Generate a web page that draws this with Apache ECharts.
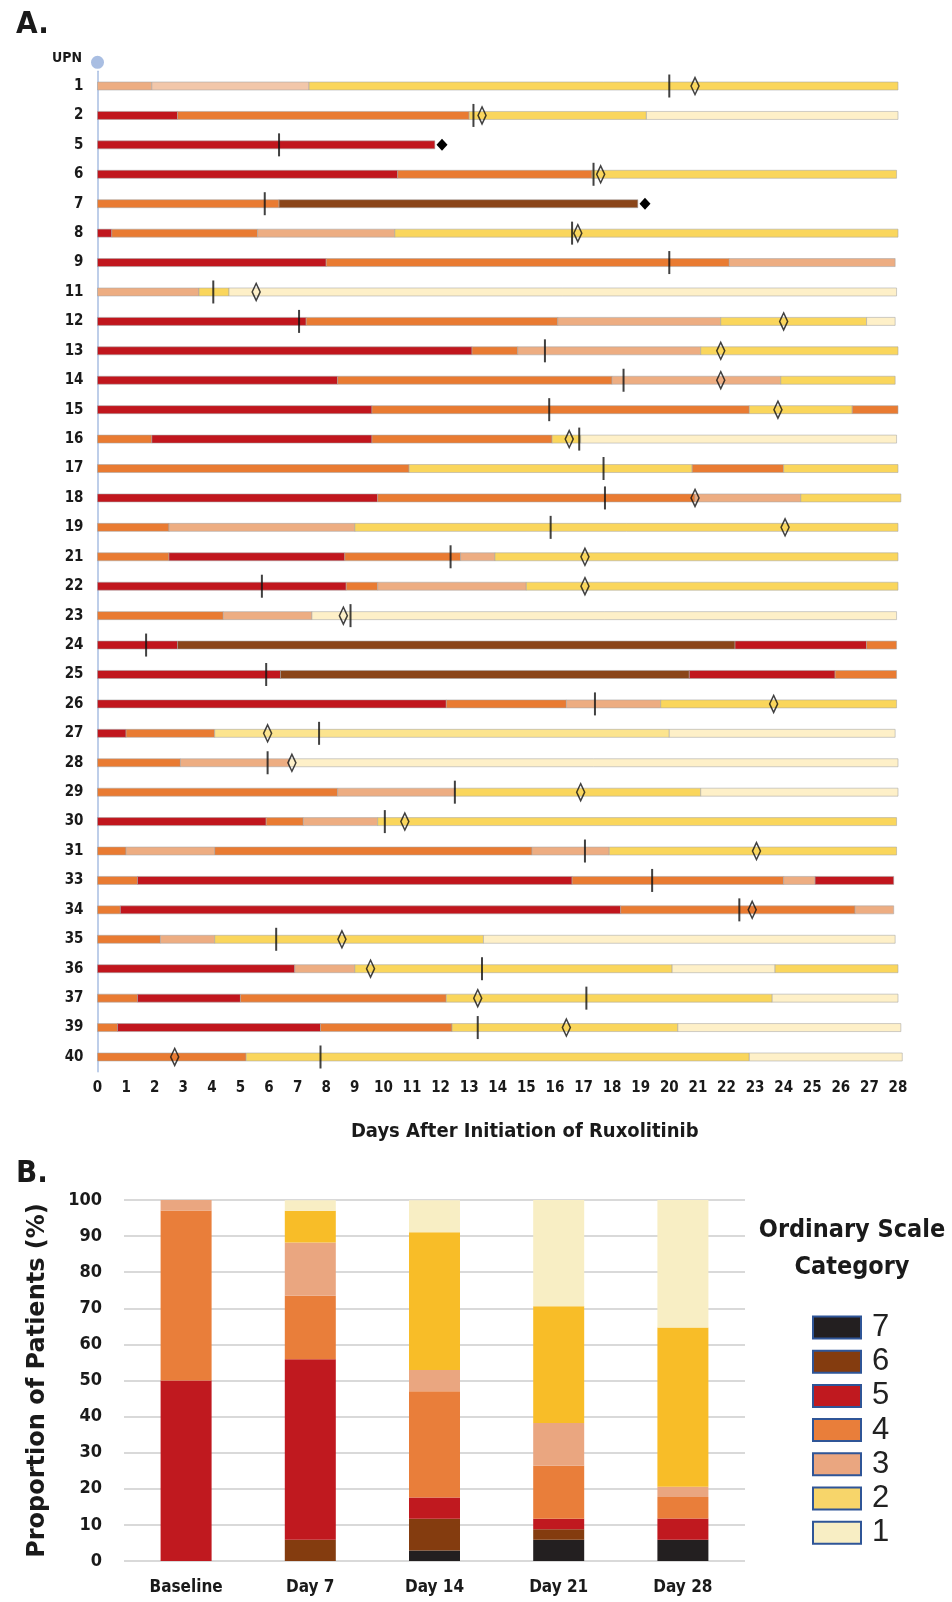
<!DOCTYPE html>
<html>
<head>
<meta charset="utf-8">
<script src="https://cdn.jsdelivr.net/npm/echarts@6.0.0/dist/echarts.min.js"></script>
<style>
  html, body { margin: 0; padding: 0; background: #ffffff; }
  #chart { width: 952px; height: 1602px; }
</style>
</head>
<body>
<div id="chart"></div>
<script>
// ---------- Panel A: daily ordinal-scale course for each patient ----------
const upn = ['1','2','5','6','7','8','9','11','12','13','14','15','16','17','18','19','21','22',
             '23','24','25','26','27','28','29','30','31','33','34','35','36','37','39','40'];

// Day on which each successive stage ends (stages start at day 0)
const stageEnd = [
  [1.9, 7.4, 28],
  [2.8, 13.0, 19.2, 28],
  [11.8],
  [10.5, 17.3, 27.95],
  [6.35, 18.9],
  [0.5, 5.6, 10.4, 28],
  [8.0, 22.1, 27.9],
  [3.55, 4.6, 27.95],
  [7.3, 16.1, 21.8, 26.9, 27.9],
  [13.1, 14.7, 21.1, 28],
  [8.4, 18.0, 23.9, 27.9],
  [9.6, 22.8, 26.4, 28],
  [1.9, 9.6, 15.9, 16.9, 27.95],
  [10.9, 20.8, 24.0, 28],
  [9.8, 20.9, 24.6, 28.1],
  [2.5, 9.0, 28],
  [2.5, 8.65, 12.7, 13.9, 28],
  [8.7, 9.8, 15.0, 28],
  [4.4, 7.5, 27.95],
  [2.8, 22.3, 26.9, 27.95],
  [6.4, 20.7, 25.8, 27.95],
  [12.2, 16.4, 19.7, 27.95],
  [1.0, 4.1, 20.0, 27.9],
  [2.9, 6.7, 28],
  [8.4, 12.5, 21.1, 28],
  [5.9, 7.2, 9.8, 27.95],
  [1.0, 4.1, 15.2, 17.9, 27.95],
  [1.4, 16.6, 24.0, 25.1, 27.85],
  [0.8, 18.3, 26.5, 27.85],
  [2.2, 4.1, 13.5, 27.9],
  [6.9, 9.0, 20.1, 23.7, 28],
  [1.4, 5.0, 12.2, 23.6, 28],
  [0.7, 7.8, 12.4, 20.3, 28.1],
  [5.2, 22.8, 28.15]
];

// Ordinal-scale category of each stage ('3L' / '2L' = lighter shades)
const stageCat = [
  [3,'3L',2], [5,4,2,1], [5], [5,4,2], [4,6], [5,4,3,2], [5,4,3], [3,2,1],
  [5,4,3,2,1], [5,4,3,2], [5,4,3,2], [5,4,2,4], [4,5,4,2,1], [4,2,4,2],
  [5,4,3,2], [4,3,2], [4,5,4,3,2], [5,4,3,2], [4,3,1], [5,6,5,4], [5,6,5,4],
  [5,4,3,2], [5,4,'2L',1], [4,3,1], [4,3,2,1], [5,4,3,2], [4,3,4,3,2],
  [4,5,4,3,5], [4,5,4,3], [4,3,2,1], [5,3,2,1,2], [4,5,4,2,1], [4,5,4,2,1], [4,2,1]
];

// Event days per patient (null = none)
const tickDay = [20.0, 13.15, 6.35, 17.35, 5.85, 16.6, 20.0, 4.05, 7.05, 15.65, 18.4, 15.8,
                 16.85, 17.7, 17.75, 15.85, 12.35, 5.75, 8.85, 1.7, 5.9, 17.4, 7.75, 5.95,
                 12.5, 10.05, 17.05, 19.4, 22.45, 6.25, 13.45, 17.1, 13.3, 7.8];
const diamondDay = [20.9, 13.45, null, 17.6, null, 16.8, null, 5.55, 24.0, 21.8, 21.8, 23.8,
                    16.5, null, 20.9, 24.05, 17.05, 17.05, 8.6, null, null, 23.65, 5.95, 6.8,
                    16.9, 10.75, 23.05, null, 22.9, 8.55, 9.55, 13.3, 16.4, 2.7];
const deathDay = [null, null, 12.05, null, 19.15, null, null, null, null, null, null, null,
                  null, null, null, null, null, null, null, null, null, null, null, null,
                  null, null, null, null, null, null, null, null, null, null];

const dayTicks = [0, 28];

// ---------- Panel B: proportion of patients per category ----------
const timepoints = ['Baseline', 'Day 7', 'Day 14', 'Day 21', 'Day 28'];
const cat7 = [0, 0, 2.9, 5.9, 5.9];
const cat6 = [0, 5.9, 8.8, 2.9, 0];
const cat5 = [50.0, 50.0, 5.9, 2.9, 5.9];
const cat4 = [47.1, 17.6, 29.4, 14.7, 5.9];
const cat3 = [2.9, 14.7, 5.9, 11.8, 2.9];
const cat2 = [0, 8.8, 38.2, 32.4, 44.1];
const cat1 = [0, 2.9, 8.8, 29.4, 35.3];

// ---------- styling ----------
const NARROW = "'Liberation Sans Narrow', 'DejaVu Sans Condensed', 'Liberation Sans', sans-serif";
const colorA = { 1: '#FEF0C8', 2: '#FAD65C', '2L': '#FCE48E', 3: '#EDAD82', '3L': '#F2C7AA',
                 4: '#E97B32', 5: '#C1161D', 6: '#8A4519' };
const colorB = { 7: '#231F20', 6: '#843C0F', 5: '#C0191F', 4: '#E97E3A', 3: '#EAA680',
                 2: '#F8BD28', 1: '#F8EEC4' };
const legendColor = { 2: '#F7D56A' };

const segData = [];
const segColors = [];
upn.forEach((u, i) => {
  let start = 0;
  stageEnd[i].forEach((end, k) => {
    segData.push([i, start, end]);
    segColors.push(colorA[stageCat[i][k]]);
    start = end;
  });
});
const pointsOf = arr => arr.map((d, i) => d == null ? null : [d, i]).filter(p => p);

const chart = echarts.init(document.getElementById('chart'), null, { renderer: 'canvas' });

const barSeries = [
  ['7', cat7], ['6', cat6], ['5', cat5], ['4', cat4], ['3', cat3], ['2', cat2], ['1', cat1]
].map(([name, vals]) => ({
  name, type: 'bar', xAxisIndex: 1, yAxisIndex: 1, stack: 'share', barWidth: 51,
  itemStyle: { color: colorB[name] }, data: vals
}));

chart.setOption({
  animation: false,
  backgroundColor: '#ffffff',
  title: [
    { text: 'A.', left: 11, top: 4, textStyle: { fontFamily: NARROW, fontSize: 31, fontWeight: 'bold', color: '#1a1a1a' } },
    { text: 'B.', left: 11, top: 1153, textStyle: { fontFamily: NARROW, fontSize: 31, fontWeight: 'bold', color: '#1a1a1a' } },
    { text: 'UPN', left: 47, top: 46, textStyle: { fontFamily: NARROW, fontSize: 14, fontWeight: 'bold', color: '#1a1a1a' } },
    { text: 'Ordinary Scale\nCategory', left: 847, top: 1207, textAlign: 'center',
      textStyle: { fontFamily: NARROW, fontSize: 25, fontWeight: 'bold', color: '#1a1a1a', lineHeight: 37, align: 'center' } }
  ],
  grid: [
    { left: 97.5, right: 54, top: 71.3, bottom: 530.3 },
    { left: 124, right: 207, top: 1200, bottom: 41 }
  ],
  legend: {
    orient: 'vertical', left: 807, top: 1307, itemWidth: 48, itemHeight: 22, itemGap: 3.2,
    icon: 'rect', selectedMode: false,
    itemStyle: { borderColor: '#2F5597', borderWidth: 2 },
    textStyle: { fontFamily: "'Liberation Sans', sans-serif", fontSize: 31, color: '#222', lineHeight: 22, padding: [0, 0, 0, 6] },
    data: ['7', '6', '5', '4', '3', '2', '1'].map(n => legendColor[n]
      ? { name: n, itemStyle: { color: legendColor[n] } } : { name: n })
  },
  xAxis: [
    {
      gridIndex: 0, type: 'value', min: dayTicks[0], max: dayTicks[1], interval: 1,
      axisLine: { show: false }, axisTick: { show: false }, splitLine: { show: false },
      axisLabel: { margin: 9, fontFamily: NARROW, fontSize: 15, fontWeight: 'bold', color: '#1a1a1a' },
      name: 'Days After Initiation of Ruxolitinib', nameLocation: 'middle', nameGap: 50,
      nameTextStyle: { fontFamily: NARROW, fontSize: 20, fontWeight: 'bold', color: '#1a1a1a', padding: [0, 0, 0, 54] }
    },
    {
      gridIndex: 1, type: 'category', data: timepoints,
      axisLine: { show: false }, axisTick: { show: false },
      axisLabel: { margin: 18, fontFamily: NARROW, fontSize: 17, fontWeight: 'bold', color: '#1a1a1a' }
    }
  ],
  yAxis: [
    {
      gridIndex: 0, type: 'category', data: upn, inverse: true,
      axisLine: { show: true, lineStyle: { color: '#A9BEE2', width: 1.5 },
                  symbol: ['none', 'circle'], symbolSize: [13, 13], symbolOffset: [0, 9] },
      axisTick: { show: false }, splitLine: { show: false },
      axisLabel: { margin: 14, fontFamily: NARROW, fontSize: 15, fontWeight: 'bold', color: '#1a1a1a' }
    },
    {
      gridIndex: 1, type: 'value', min: 0, max: 100, interval: 10,
      axisLine: { show: false }, axisTick: { show: false },
      splitLine: { lineStyle: { color: '#D9D9D9', width: 2 } },
      axisLabel: { margin: 22, fontFamily: NARROW, fontSize: 18, fontWeight: 'bold', color: '#1a1a1a' },
      name: 'Proportion of Patients (%)', nameLocation: 'middle', nameGap: 74, nameRotate: 90,
      nameTextStyle: { fontFamily: "'DejaVu Sans', sans-serif", fontSize: 24, fontWeight: 'bold', color: '#1a1a1a' }
    }
  ],
  series: [
    {
      type: 'custom', name: 'stages', xAxisIndex: 0, yAxisIndex: 0, clip: false, z: 2,
      encode: { x: [1, 2], y: 0 },
      renderItem(params, api) {
        const row = api.value(0);
        const p0 = api.coord([api.value(1), row]);
        const p1 = api.coord([api.value(2), row]);
        const h = 8;
        return {
          type: 'rect',
          shape: { x: p0[0], y: p0[1] - h / 2, width: p1[0] - p0[0], height: h },
          style: { fill: segColors[params.dataIndex], stroke: 'rgba(165,165,165,0.55)', lineWidth: 1 }
        };
      },
      data: segData
    },
    {
      type: 'scatter', name: 'tick', xAxisIndex: 0, yAxisIndex: 0, z: 3,
      symbol: 'rect', symbolSize: [2, 23], itemStyle: { color: '#111111' },
      data: pointsOf(tickDay)
    },
    {
      type: 'scatter', name: 'diamond', xAxisIndex: 0, yAxisIndex: 0, z: 4,
      symbol: 'diamond', symbolSize: [8, 17],
      itemStyle: { color: 'rgba(255,255,255,0)', borderColor: '#111111', borderWidth: 1.7 },
      data: pointsOf(diamondDay)
    },
    {
      type: 'scatter', name: 'death', xAxisIndex: 0, yAxisIndex: 0, z: 4,
      symbol: 'diamond', symbolSize: [11, 12], itemStyle: { color: '#000000', opacity: 1 },
      data: pointsOf(deathDay)
    },
    ...barSeries
  ]
});
</script>
</body>
</html>
